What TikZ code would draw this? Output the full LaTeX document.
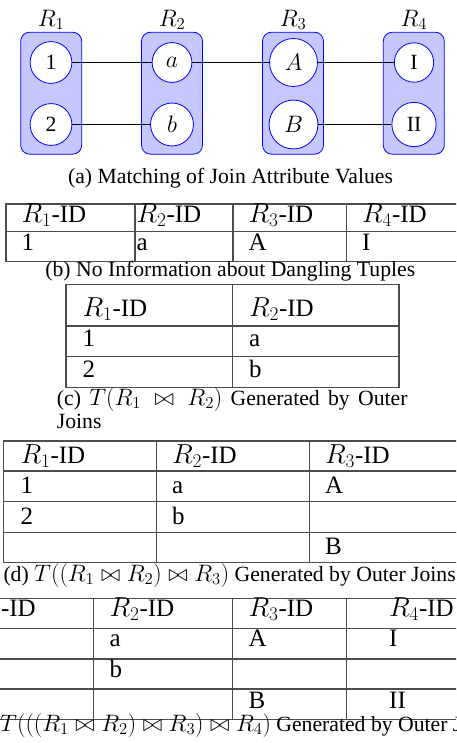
\documentclass[tikz,border=0pt]{standalone}
\usepackage{fix-cm}
\usepackage{amsmath}
\usepackage{fontspec}
\setmainfont{Liberation Serif}
\DeclareMathSizes{25}{27.5}{19.3}{13.8}
\DeclareMathSizes{21.7}{23.8}{16.7}{11.9}
\usetikzlibrary{positioning}
\tikzset{
  relbox/.style = {rectangle, draw=blue, fill=blue!22, rounded corners=9pt,
    minimum width=61pt, minimum height=122pt, line width=0.8pt},
  val/.style = {circle, draw=blue, fill=white, inner sep=8.5pt, line width=0.8pt,
    font=\fontsize{21.7}{24}\selectfont},
  rel/.style = {inner sep=1pt, font=\fontsize{21.7}{24}\selectfont},
  link/.style = {line width=1pt},
  tabline/.style = {draw=black!70, line width=1.1pt},
  cell/.style = {anchor=base west, inner sep=0pt, font=\fontsize{25}{29}\selectfont},
  capt/.style = {inner sep=0pt, font=\fontsize{21.7}{23}\selectfont}
}

\begin{document}
\begin{tikzpicture}[x=1pt, y=-1pt]

\path[use as bounding box, clip] (0,0) rectangle (456,743);

% (a) matching of the join values
\node[relbox] (box1) at (51.2,93.2) {};
\node[relbox] (box2) at (172,93.2) {};
\node[relbox] (box3) at (293,93.2) {};
\node[relbox] (box4) at (413.8,93.2) {};
\node[rel, above=1pt of box1] (rel1) {$R_1$};
\node[rel, above=1pt of box2] (rel2) {$R_2$};
\node[rel, above=1pt of box3] (rel3) {$R_3$};
\node[rel, above=1pt of box4] (rel4) {$R_4$};

\node[val] (v1) at (51,62.5) {1};
\node[val] (v2) at (51,124.5) {2};
\node[val] (va) at (172,62.5) {$a$};
\node[val] (vb) at (172,124.5) {$b$};
\node[val] (vA) at (293.5,62.5) {$A$};
\node[val] (vB) at (293.5,124.5) {$B$};
\node[val] (vI) at (414,62.5) {I};
\node[val] (vII) at (414,124.5) {II};

\draw[link] (v1) -- (va);
\draw[link] (va) -- (vA);
\draw[link] (vA) -- (vI);
\draw[link] (v2) -- (vb);
\draw[link] (vB) -- (vII);

\node[capt, anchor=base] (capa) at (230.5,183.5) {(a) Matching of Join Attribute Values};

% (b) only the full match
\draw[tabline] (6,204) rectangle (470,261.7);
\draw[tabline] (6,231.7) -- (470,231.7);
\foreach \x in {135,233,346.7} \draw[tabline] (\x,204) -- (\x,261.7);
\node[cell] (b11) at (21.5,222.7) {$R_1$-ID};
\node[cell] (b12) at (136.5,222.7) {$R_2$-ID};
\node[cell] (b13) at (248.5,222.7) {$R_3$-ID};
\node[cell] (b14) at (362,222.7) {$R_4$-ID};
\node[cell] (b21) at (21.5,250) {1};
\node[cell] (b22) at (136.5,250) {a};
\node[cell] (b23) at (248.5,250) {A};
\node[cell] (b24) at (362,250) {I};
\node[capt, anchor=base] (capb) at (230.3,276) {(b) No Information about Dangling Tuples};

% (c) two relations
\draw[tabline] (66,284.3) rectangle (399,387.3);
\foreach \y in {326,356.7} \draw[tabline] (66,\y) -- (399,\y);
\draw[tabline] (232.3,284.3) -- (232.3,387.3);
\node[cell] (c11) at (82.5,316.7) {$R_1$-ID};
\node[cell] (c12) at (249,316.7) {$R_2$-ID};
\node[cell] (c21) at (82.5,346.7) {1};
\node[cell] (c22) at (249,346.7) {a};
\node[cell] (c31) at (82.5,377.3) {2};
\node[cell] (c32) at (249,377.3) {b};
\node[capt, anchor=base west, text width=350.6pt, align=justify] (capc) at (56.7,405)
  {(c) $T(R_1\bowtie R_2)$ Generated by Outer Joins};

% (d) three relations
\draw[tabline] (3.3,441) rectangle (470,562.3);
\foreach \y in {471,501.7,532.3} \draw[tabline] (3.3,\y) -- (470,\y);
\foreach \x in {156.7,309.3} \draw[tabline] (\x,441) -- (\x,562.3);
\node[cell] (d11) at (20.5,463) {$R_1$-ID};
\node[cell] (d12) at (172,463) {$R_2$-ID};
\node[cell] (d13) at (325,463) {$R_3$-ID};
\node[cell] (d21) at (20.5,493.3) {1};
\node[cell] (d22) at (172,493.3) {a};
\node[cell] (d23) at (325,493.3) {A};
\node[cell] (d31) at (20.5,524) {2};
\node[cell] (d32) at (172,524) {b};
\node[cell] (d43) at (325,554) {B};
\node[capt, anchor=base west] (capd) at (3.3,581)
  {(d) $T((R_1\bowtie R_2)\bowtie R_3)$ Generated by Outer Joins};

% (e) four relations
\draw[tabline] (-60,598.3) rectangle (470,719.3);
\foreach \y in {628.3,659,689} \draw[tabline] (-60,\y) -- (470,\y);
\foreach \x in {93.3,232.3,346.7} \draw[tabline] (\x,598.3) -- (\x,719.3);
\node[cell] (e11) at (-29,616.7) {$R_1$-ID};
\node[cell] (e12) at (109.5,616.7) {$R_2$-ID};
\node[cell] (e13) at (248.5,616.7) {$R_3$-ID};
\node[cell] (e14) at (389,616.7) {$R_4$-ID};
\node[cell] (e22) at (109.5,646.7) {a};
\node[cell] (e23) at (248.5,646.7) {A};
\node[cell] (e24) at (389,646.7) {I};
\node[cell] (e32) at (109.5,677) {b};
\node[cell] (e43) at (248.5,708) {B};
\node[cell] (e44) at (389,708) {II};
\node[capt, anchor=base west] (cape) at (-29.5,731)
  {(e) $T(((R_1\bowtie R_2)\bowtie R_3)\bowtie R_4)$ Generated by Outer Joins};

\end{tikzpicture}
\end{document}
